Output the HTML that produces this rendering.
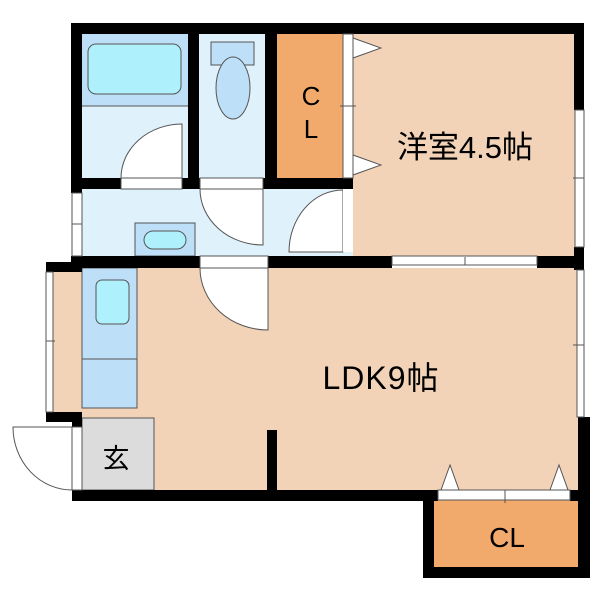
<!DOCTYPE html>
<html><head><meta charset="utf-8"><style>html,body{margin:0;padding:0;background:#fff}svg{display:block}</style></head>
<body>
<svg width="600" height="600" viewBox="0 0 600 600" xmlns="http://www.w3.org/2000/svg">
<g stroke="none">
<rect x="353" y="34" width="222" height="222" fill="#f2d3b8"/>
<rect x="52" y="268" width="40" height="144" fill="#f2d3b8"/>
<rect x="82" y="268" width="496" height="222" fill="#f2d3b8"/>
<rect x="277" y="34" width="66" height="144" fill="#f2a96c"/>
<rect x="434" y="500" width="145" height="67" fill="#f2a96c"/>
<rect x="82" y="34" width="106" height="72" fill="#bde0f8"/>
<rect x="82" y="106" width="106" height="72" fill="#dff1fb"/>
<rect x="199" y="34" width="66" height="144" fill="#dff1fb"/>
<rect x="82" y="189" width="271" height="67" fill="#dff1fb"/>
<rect x="82" y="268" width="55" height="140" fill="#bde0f8"/>
<rect x="82" y="418" width="72" height="72" fill="#dcdcdc"/>
</g>
<g fill="none" stroke="#555" stroke-width="1">
<line x1="82" y1="106" x2="188" y2="106"/>
<rect x="88" y="44" width="93" height="50" rx="8" fill="#aef0fb"/>
<rect x="211" y="42" width="43" height="23" fill="#bde0f8"/>
<ellipse cx="233" cy="88" rx="17" ry="31" fill="#bde0f8"/>
<rect x="135" y="223" width="60" height="33" fill="#bde0f8"/>
<rect x="144" y="231" width="42" height="18" rx="9" fill="#aef0fb"/>
<rect x="96" y="280" width="33" height="44" rx="6" fill="#aef0fb"/>
<line x1="82" y1="359" x2="137" y2="359"/>
<rect x="82" y="268" width="55" height="140"/>
<rect x="82" y="418" width="72" height="72"/>
<path d="M182 124 L182 178 L121 178 A61 54 0 0 1 182 124 Z" fill="#fff"/>
<path d="M263 189 L263 245 A63 56 0 0 1 200 189 Z" fill="#fff"/>
<path d="M343 190 L343 252 L289 252 A54 62 0 0 1 343 190 Z" fill="#fff"/>
<path d="M268 268 L268 330 A68 62 0 0 1 200 268 Z" fill="#fff"/>
<path d="M13 427 L72 427 L72 490 A59 63 0 0 1 13 427 Z" fill="#fff"/>
<path d="M353 38 L381 48 L353 58 Z" fill="#fff"/>
<path d="M353 155 L381 165 L353 175 Z" fill="#fff"/>
<path d="M441 490 L450 465 L459 490 Z" fill="#fff"/>
<path d="M550 490 L559 465 L568 490 Z" fill="#fff"/>
</g>
<g fill="#000">
<rect x="71" y="23" width="513" height="11"/>
<rect x="71" y="23" width="11" height="170"/>
<rect x="188" y="34" width="11" height="155"/>
<rect x="265" y="34" width="12" height="155"/>
<rect x="82" y="178" width="39" height="11"/>
<rect x="182" y="178" width="18" height="11"/>
<rect x="263" y="178" width="90" height="11"/>
<rect x="574" y="23" width="10" height="87"/>
<rect x="71" y="256" width="129" height="12"/>
<rect x="46" y="262" width="36" height="10"/>
<rect x="268" y="256" width="124" height="12"/>
<rect x="537" y="256" width="47" height="12"/>
<rect x="574" y="247" width="10" height="23"/>
<rect x="46" y="412" width="36" height="10"/>
<rect x="72" y="412" width="10" height="15"/>
<rect x="72" y="490" width="366" height="11"/>
<rect x="267" y="430" width="10" height="60"/>
<rect x="578" y="417" width="12" height="161"/>
<rect x="423" y="490" width="11" height="88"/>
<rect x="423" y="567" width="167" height="11"/>
<rect x="570" y="490" width="20" height="11"/>
</g>
<g fill="#fff" stroke="#555" stroke-width="1">
<rect x="343" y="34" width="10" height="144"/>
<rect x="343" y="189" width="10" height="63" stroke="none"/>
<rect x="121" y="178" width="61" height="11"/>
<rect x="200" y="178" width="63" height="11"/>
<rect x="200" y="256" width="68" height="12"/>
<rect x="392" y="256" width="145" height="9"/>
<rect x="575" y="110" width="9" height="137"/>
<rect x="577" y="270" width="7" height="147"/>
<rect x="72" y="193" width="10" height="63"/>
<rect x="46" y="272" width="7" height="140"/>
<rect x="72" y="427" width="10" height="63"/>
<rect x="438" y="490" width="132" height="10"/>
</g>
<g stroke="#555" stroke-width="1">
<line x1="340" y1="106" x2="356" y2="106"/>
<line x1="465" y1="257" x2="465" y2="265"/>
<line x1="505" y1="490" x2="505" y2="503"/>
<line x1="573" y1="178" x2="584" y2="178"/>
<line x1="573" y1="345" x2="584" y2="345"/>
<line x1="72" y1="224" x2="82" y2="224"/>
<line x1="46" y1="341" x2="55" y2="341"/>
</g>
<g font-family="'Liberation Sans','Noto Sans CJK JP',sans-serif" fill="#000" text-anchor="middle">
<text x="465" y="158" font-size="31">洋室4.5帖</text>
<text x="381" y="389" font-size="32" letter-spacing="1">LDK9帖</text>
<text x="311" y="105" font-size="26">C</text>
<text x="311" y="138" font-size="26">L</text>
<text x="507" y="547" font-size="28">CL</text>
<text x="116" y="468" font-size="27">玄</text>
</g>
</svg>
</body></html>
